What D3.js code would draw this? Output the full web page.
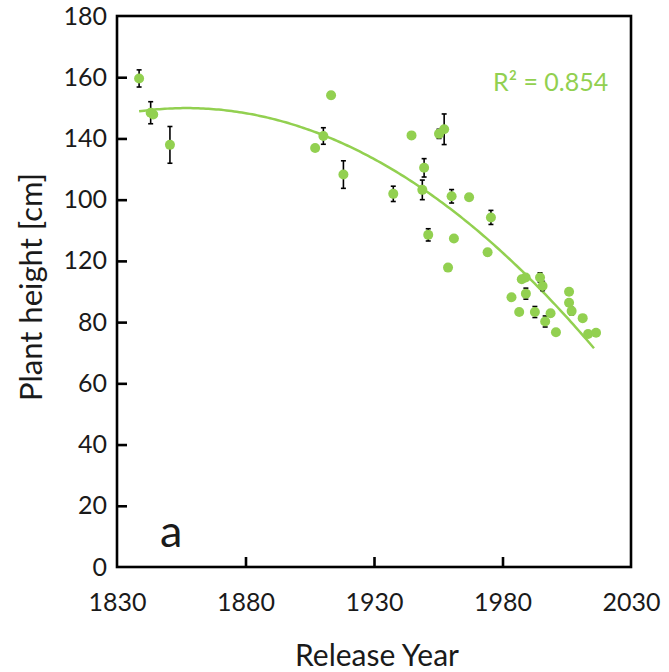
<!DOCTYPE html>
<html>
<head>
<meta charset="utf-8">
<style>
  body { margin: 0; background: #fff; }
  text { font-family: Lato, "Open Sans", sans-serif; fill: #1a1a1a; }
  .axis path, .axis line { stroke: #000; stroke-width: 2.6; }
</style>
<script src="https://cdn.jsdelivr.net/npm/d3@7"></script>
</head>
<body>
<svg id="chart" width="669" height="672"></svg>
<script>
// release year, plant height (cm), error bar half-length
var years = [1838.6, 1843.1, 1844.1, 1850.6, 1907.1, 1910.3, 1913.3, 1918.1,
             1937.5, 1944.6, 1948.8, 1949.5, 1951.1, 1955.3, 1957.3, 1958.8,
             1960.2, 1961.1, 1967.0, 1974.2, 1975.5, 1983.5, 1986.5, 1987.5,
             1989.0, 1989.1, 1992.6, 1994.6, 1995.6, 1996.6, 1998.7, 2000.8,
             2005.9, 2005.9, 2006.9, 2011.2, 2013.3, 2016.4];
var heights = [159.6, 148.4, 147.8, 137.9, 136.9, 140.8, 154.1, 128.2,
               121.9, 141.0, 123.2, 130.4, 108.5, 141.5, 143.0, 97.8,
               121.1, 107.3, 120.8, 102.8, 114.2, 88.1, 83.3, 94.0,
               94.6, 89.3, 83.3, 94.6, 91.8, 80.2, 82.9, 76.7,
               89.9, 86.3, 83.6, 81.3, 76.1, 76.5];
var errors = [2.8, 3.6, 0, 6.0, 1.0, 2.7, 1.0, 4.5,
              2.5, 1.0, 3.2, 3.0, 2.0, 1.5, 5.0, 0,
              2.2, 0.8, 1.0, 1.0, 2.3, 0, 0, 0.5,
              0, 1.8, 1.8, 1.5, 1.5, 1.8, 1.0, 0,
              1.0, 0, 1.2, 0.8, 0, 0];
var xTicks = [1830, 1880, 1930, 1980, 2030];
var yTicks = [0, 20, 40, 60, 80, 100, 120, 140, 160, 180];
var yTickLabels = ["0", "20", "40", "60", "80", "120", "100", "140", "160", "180"]; // as printed
var r2Label = "R² = 0.854";
var green = "#92d050";

var svg = d3.select("#chart");
var pLeft = 117, pRight = 631, pTop = 16, pBottom = 567;

var x = d3.scaleLinear().domain([1830, 2030]).range([pLeft, pRight]);
var y = d3.scaleLinear().domain([0, 180]).range([pBottom, pTop]);

// box
svg.append("rect")
   .attr("x", pLeft).attr("y", pTop)
   .attr("width", pRight - pLeft).attr("height", pBottom - pTop)
   .attr("fill", "none").attr("stroke", "#000").attr("stroke-width", 2.6);

// axes, ticks inside
var xAxis = svg.append("g").attr("class", "axis")
   .attr("transform", "translate(0," + pBottom + ")")
   .call(d3.axisBottom(x).tickValues(xTicks).tickSizeInner(-10).tickSizeOuter(0).tickPadding(26).tickFormat(d3.format("d")));
xAxis.selectAll("text").attr("font-size", 25).attr("fill", "#1a1a1a");
xAxis.selectAll(".tick").filter(function(d) { return d == 1830 || d == 2030; }).select("line").remove();

var yAxis = svg.append("g").attr("class", "axis")
   .attr("transform", "translate(" + pLeft + ",0)")
   .call(d3.axisLeft(y).tickValues(yTicks).tickSizeInner(-10).tickSizeOuter(0).tickPadding(10)
     .tickFormat(function(d, i) { return yTickLabels[i]; }));
yAxis.selectAll("text").attr("font-size", 25).attr("fill", "#1a1a1a");
yAxis.selectAll(".tick").filter(function(d) { return d == 0 || d == 180; }).select("line").remove();
svg.selectAll(".axis .domain").remove();

// axis titles
svg.append("text")
   .attr("x", 377).attr("y", 666)
   .attr("text-anchor", "middle").attr("font-size", 30)
   .text("Release Year");
svg.append("text")
   .attr("transform", "translate(42," + 287 + ") rotate(-90)")
   .attr("text-anchor", "middle").attr("font-size", 31)
   .text("Plant height [cm]");

// panel letter
svg.append("text")
   .attr("x", 160).attr("y", 547)
   .attr("font-size", 45)
   .text("a");

// quadratic trendline (least squares)
var n = years.length, S = [0, 0, 0, 0, 0], T = [0, 0, 0];
for (var i = 0; i < n; i++) {
  var t = years[i] - 1930;
  for (var k = 0; k < 5; k++) S[k] += Math.pow(t, k);
  for (var k = 0; k < 3; k++) T[k] += heights[i] * Math.pow(t, k);
}
function det3(m) {
  return m[0][0]*(m[1][1]*m[2][2]-m[1][2]*m[2][1]) - m[0][1]*(m[1][0]*m[2][2]-m[1][2]*m[2][0]) + m[0][2]*(m[1][0]*m[2][1]-m[1][1]*m[2][0]);
}
var M = [[S[0], S[1], S[2]], [S[1], S[2], S[3]], [S[2], S[3], S[4]]];
var D = det3(M), coef = [];
for (var c = 0; c < 3; c++) {
  var Mc = M.map(function(row, ri) { var r = row.slice(); r[c] = T[ri]; return r; });
  coef.push(det3(Mc) / D);
}
function fit(yr) { var t = yr - 1930; return coef[0] + coef[1]*t + coef[2]*t*t; }
var xs = d3.range(d3.min(years), d3.max(years) + 0.01, 1);
svg.append("path")
   .attr("d", d3.line().x(function(d) { return x(d); }).y(function(d) { return y(fit(d)); })(xs))
   .attr("fill", "none").attr("stroke", green).attr("stroke-width", 2.5);

// error bars
var eb = svg.append("g").attr("stroke", "#000").attr("stroke-width", 1.6);
years.forEach(function(yr, i) {
  if (!errors[i]) return;
  var cx = x(yr), y1 = y(heights[i] - errors[i]), y2 = y(heights[i] + errors[i]);
  eb.append("line").attr("x1", cx).attr("x2", cx).attr("y1", y1).attr("y2", y2);
  eb.append("line").attr("x1", cx - 2.5).attr("x2", cx + 2.5).attr("y1", y1).attr("y2", y1);
  eb.append("line").attr("x1", cx - 2.5).attr("x2", cx + 2.5).attr("y1", y2).attr("y2", y2);
});

// points
svg.append("g").selectAll("circle")
   .data(years)
   .enter()
   .append("circle")
   .attr("cx", function(d) { return x(d); })
   .attr("cy", function(d, i) { return y(heights[i]); })
   .attr("r", 5)
   .attr("fill", green);

svg.append("text")
   .attr("x", 493).attr("y", 91)
   .attr("font-size", 25)
   .style("fill", green)
   .text(r2Label);
</script>
</body>
</html>
